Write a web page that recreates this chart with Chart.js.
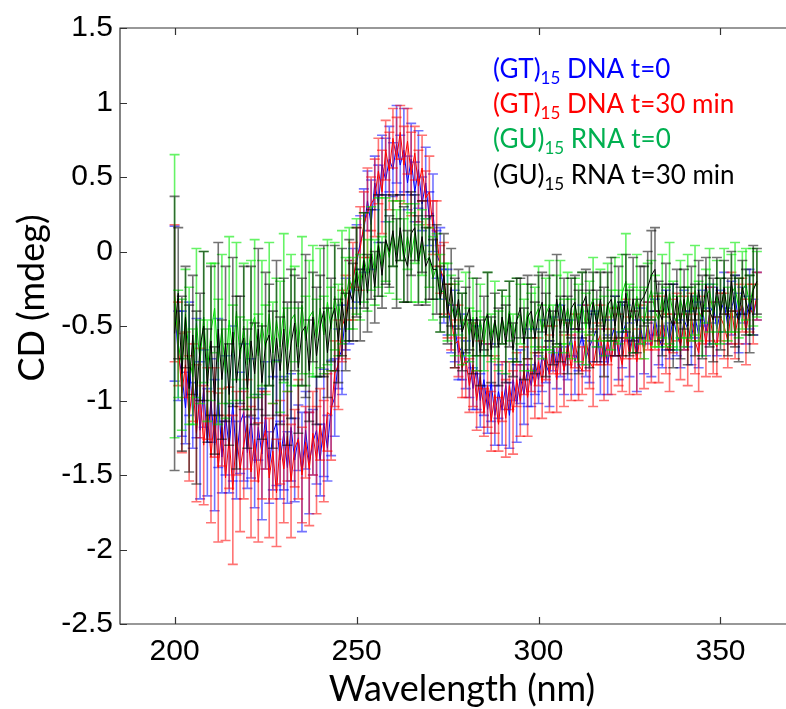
<!DOCTYPE html>
<html>
<head>
<meta charset="utf-8">
<script src="https://cdn.jsdelivr.net/npm/chart.js@4"></script>
<style>
  body { margin: 0; background: #fff; }
  #wrap { width: 786px; height: 709px; position: relative; }
</style>
</head>
<body>
<div id="wrap"><canvas id="cdChart"></canvas></div>
<script>
// Wavelength grid (nm), 1 nm steps
const wavelengths = [];
for (let w = 200; w <= 360; w++) wavelengths.push(w);

const xTicks = [200, 250, 300, 350];
const yTicks = [1.5, 1, 0.5, 0, -0.5, -1, -1.5, -2, -2.5];

// (GT)15 DNA t=0
const gtDna0 = [
  -0.35, -0.70, -0.82, -1.05, -0.72, -1.10, -0.85, -1.20, -0.92, -1.28,
  -1.00, -1.30, -0.95, -1.38, -1.10, -1.32, -1.02, -1.40, -1.15, -1.08,
  -1.35, -1.12, -1.42, -1.18, -1.36, -1.10, -1.45, -1.22, -1.15, -1.40,
  -1.22, -1.45, -1.18, -1.40, -1.25, -1.48, -1.20, -1.42, -1.28, -1.20,
  -1.40, -1.15, -1.32, -1.05, -0.98, -0.72, -0.66, -0.42, -0.34, -0.18,
  -0.08, 0.06, 0.14, 0.34, 0.18, 0.46, 0.32, 0.58, 0.48, 0.62,
  0.55, 0.72, 0.58, 0.68, 0.46, 0.62, 0.40, 0.55, 0.32, 0.46,
  0.22, 0.26, -0.02, -0.08, -0.30, -0.34, -0.52, -0.50, -0.68, -0.64,
  -0.76, -0.72, -0.92, -0.78, -1.00, -0.86, -1.06, -0.88, -1.10, -0.94,
  -1.06, -0.90, -1.10, -0.86, -1.02, -0.84, -0.96, -0.78, -0.90, -0.74,
  -0.86, -0.70, -0.76, -0.82, -0.62, -0.78, -0.60, -0.80, -0.66, -0.58,
  -0.74, -0.66, -0.56, -0.72, -0.64, -0.58, -0.52, -0.74, -0.60, -0.76,
  -0.58, -0.50, -0.70, -0.56, -0.48, -0.66, -0.54, -0.70, -0.50, -0.64,
  -0.48, -0.62, -0.44, -0.58, -0.64, -0.46, -0.60, -0.44, -0.56, -0.62,
  -0.46, -0.52, -0.58, -0.44, -0.56, -0.38, -0.54, -0.42, -0.36, -0.52,
  -0.40, -0.34, -0.50, -0.38, -0.30, -0.48, -0.36, -0.46, -0.32, -0.44, -0.30
];
const gtDna0Err = [
  0.52, 0.30, 0.42, 0.24, 0.38, 0.22, 0.40, 0.46, 0.26, 0.36,
  0.28, 0.44, 0.50, 0.24, 0.40, 0.30, 0.52, 0.26, 0.34, 0.46,
  0.24, 0.40, 0.30, 0.22, 0.44, 0.36, 0.24, 0.38, 0.42, 0.26,
  0.38, 0.24, 0.36, 0.28, 0.22, 0.40, 0.26, 0.34, 0.22, 0.36,
  0.24, 0.36, 0.22, 0.32, 0.26, 0.20, 0.30, 0.24, 0.28, 0.20,
  0.26, 0.18, 0.28, 0.20, 0.30, 0.18, 0.26, 0.20, 0.28, 0.22,
  0.18, 0.26, 0.20, 0.28, 0.18, 0.24, 0.20, 0.26, 0.18, 0.24,
  0.18, 0.26, 0.16, 0.24, 0.18, 0.22, 0.16, 0.24, 0.18, 0.22,
  0.16, 0.26, 0.14, 0.28, 0.18, 0.24, 0.16, 0.26, 0.20, 0.18,
  0.24, 0.16, 0.22, 0.14, 0.26, 0.18, 0.20, 0.26, 0.14, 0.22,
  0.16, 0.24, 0.12, 0.22, 0.18, 0.14, 0.24, 0.16, 0.20, 0.12,
  0.22, 0.14, 0.20, 0.12, 0.24, 0.16, 0.12, 0.22, 0.14, 0.20,
  0.12, 0.20, 0.16, 0.22, 0.12, 0.18, 0.14, 0.24, 0.12, 0.18,
  0.14, 0.22, 0.12, 0.18, 0.14, 0.20, 0.12, 0.22, 0.14, 0.16,
  0.20, 0.12, 0.18, 0.14, 0.22, 0.12, 0.16, 0.20, 0.12, 0.18,
  0.14, 0.20, 0.12, 0.18, 0.14, 0.20, 0.12, 0.16, 0.20, 0.12, 0.16
];

// (GT)15 DNA t=30 min
const gtDna30 = [
  -0.28, -0.62, -0.95, -0.76, -1.12, -0.88, -1.22, -0.95, -1.30, -1.02,
  -1.38, -1.08, -1.45, -1.18, -1.52, -1.25, -1.60, -1.22, -1.46, -1.30,
  -1.16, -1.48, -1.26, -1.55, -1.30, -1.20, -1.52, -1.34, -1.62, -1.28,
  -1.46, -1.24, -1.54, -1.32, -1.26, -1.50, -1.28, -1.46, -1.22, -1.40,
  -1.16, -1.34, -1.08, -1.10, -0.82, -0.76, -0.50, -0.44, -0.26, -0.20,
  -0.04, 0.02, 0.18, 0.26, 0.32, 0.36, 0.54, 0.40, 0.68, 0.54,
  0.76, 0.62, 0.80, 0.58, 0.74, 0.52, 0.66, 0.44, 0.56, 0.36,
  0.40, 0.16, 0.12, -0.12, -0.18, -0.40, -0.44, -0.62, -0.60, -0.78,
  -0.72, -0.90, -0.76, -1.00, -0.84, -1.08, -0.90, -1.14, -0.96, -1.16,
  -0.94, -1.12, -0.90, -1.08, -0.86, -1.00, -0.80, -0.98, -0.76, -0.90,
  -0.74, -0.88, -0.68, -0.82, -0.66, -0.86, -0.64, -0.80, -0.62, -0.78,
  -0.60, -0.76, -0.80, -0.58, -0.74, -0.78, -0.62, -0.56, -0.76, -0.60,
  -0.74, -0.54, -0.66, -0.76, -0.52, -0.70, -0.56, -0.74, -0.54, -0.68,
  -0.50, -0.66, -0.48, -0.64, -0.46, -0.62, -0.68, -0.50, -0.44, -0.64,
  -0.48, -0.66, -0.44, -0.60, -0.68, -0.46, -0.62, -0.42, -0.58, -0.64,
  -0.44, -0.50, -0.60, -0.38, -0.56, -0.42, -0.36, -0.54, -0.38, -0.42, -0.30
];
const gtDna30Err = [
  0.46, 0.28, 0.40, 0.22, 0.42, 0.26, 0.46, 0.30, 0.40, 0.24,
  0.44, 0.30, 0.50, 0.26, 0.42, 0.34, 0.50, 0.28, 0.42, 0.36,
  0.30, 0.44, 0.28, 0.40, 0.36, 0.26, 0.40, 0.32, 0.36, 0.28,
  0.36, 0.30, 0.38, 0.26, 0.40, 0.32, 0.24, 0.38, 0.28, 0.36,
  0.24, 0.34, 0.26, 0.30, 0.22, 0.30, 0.24, 0.28, 0.20, 0.26,
  0.20, 0.28, 0.22, 0.30, 0.18, 0.26, 0.22, 0.28, 0.20, 0.26,
  0.20, 0.28, 0.18, 0.26, 0.22, 0.28, 0.18, 0.24, 0.22, 0.18,
  0.24, 0.18, 0.22, 0.16, 0.24, 0.18, 0.22, 0.16, 0.24, 0.20,
  0.26, 0.18, 0.28, 0.20, 0.24, 0.16, 0.28, 0.20, 0.26, 0.18,
  0.20, 0.26, 0.16, 0.28, 0.18, 0.24, 0.16, 0.26, 0.18, 0.22,
  0.16, 0.24, 0.18, 0.26, 0.16, 0.22, 0.18, 0.24, 0.14, 0.22,
  0.18, 0.24, 0.16, 0.22, 0.18, 0.26, 0.14, 0.20, 0.24, 0.16,
  0.22, 0.16, 0.24, 0.18, 0.20, 0.26, 0.16, 0.22, 0.18, 0.24,
  0.16, 0.22, 0.18, 0.24, 0.16, 0.20, 0.26, 0.18, 0.16, 0.22,
  0.18, 0.24, 0.16, 0.22, 0.26, 0.16, 0.22, 0.18, 0.24, 0.20,
  0.16, 0.22, 0.18, 0.24, 0.16, 0.20, 0.18, 0.22, 0.16, 0.20, 0.16
];

// (GU)15 RNA t=0
const guRna0 = [
  -0.30, -0.62, -0.76, -0.42, -0.70, -0.84, -0.48, -0.74, -0.44, -0.80,
  -0.54, -0.38, -0.74, -0.52, -0.82, -0.46, -0.68, -0.40, -0.72, -0.50,
  -0.76, -0.52, -0.44, -0.70, -0.48, -0.66, -0.42, -0.68, -0.46, -0.64,
  -0.38, -0.66, -0.46, -0.42, -0.64, -0.36, -0.60, -0.44, -0.40, -0.58,
  -0.38, -0.56, -0.34, -0.52, -0.30, -0.46, -0.24, -0.32, -0.18, -0.28,
  -0.10, -0.24, -0.04, -0.16, 0.02, -0.14, 0.06, -0.10, 0.08, -0.04,
  0.12, -0.02, 0.14, -0.06, 0.10, -0.04, 0.12, -0.08, 0.06, -0.06,
  -0.04, -0.18, -0.10, -0.28, -0.26, -0.34, -0.36, -0.46, -0.38, -0.52,
  -0.42, -0.56, -0.44, -0.60, -0.46, -0.62, -0.42, -0.58, -0.46, -0.60,
  -0.44, -0.56, -0.40, -0.58, -0.46, -0.42, -0.56, -0.40, -0.54, -0.44,
  -0.38, -0.54, -0.42, -0.36, -0.52, -0.40, -0.34, -0.50, -0.38, -0.52,
  -0.36, -0.48, -0.34, -0.52, -0.38, -0.32, -0.48, -0.36, -0.50, -0.34,
  -0.46, -0.32, -0.44, -0.28, -0.20, -0.40, -0.46, -0.30, -0.44, -0.48,
  -0.34, -0.26, -0.40, -0.46, -0.30, -0.44, -0.28, -0.42, -0.48, -0.32,
  -0.44, -0.30, -0.42, -0.26, -0.40, -0.46, -0.30, -0.26, -0.42, -0.30,
  -0.40, -0.26, -0.42, -0.28, -0.24, -0.38, -0.26, -0.22, -0.36, -0.24, -0.22
];
const guRna0Err = [
  0.95, 0.36, 0.44, 0.30, 0.46, 0.32, 0.50, 0.28, 0.44, 0.34,
  0.46, 0.30, 0.42, 0.50, 0.30, 0.56, 0.32, 0.46, 0.28, 0.42,
  0.30, 0.46, 0.52, 0.28, 0.42, 0.30, 0.48, 0.34, 0.28, 0.44,
  0.50, 0.28, 0.44, 0.32, 0.26, 0.46, 0.30, 0.38, 0.44, 0.26,
  0.40, 0.26, 0.42, 0.28, 0.36, 0.24, 0.38, 0.28, 0.34, 0.24,
  0.32, 0.22, 0.30, 0.24, 0.28, 0.22, 0.30, 0.20, 0.28, 0.24,
  0.22, 0.30, 0.20, 0.28, 0.22, 0.30, 0.20, 0.26, 0.22, 0.28,
  0.20, 0.28, 0.22, 0.26, 0.18, 0.26, 0.20, 0.24, 0.18, 0.24,
  0.28, 0.18, 0.26, 0.20, 0.24, 0.18, 0.28, 0.16, 0.26, 0.20,
  0.18, 0.26, 0.20, 0.16, 0.28, 0.20, 0.24, 0.18, 0.26, 0.20,
  0.28, 0.18, 0.24, 0.30, 0.16, 0.24, 0.28, 0.18, 0.24, 0.20,
  0.18, 0.26, 0.20, 0.24, 0.18, 0.28, 0.16, 0.24, 0.20, 0.26,
  0.20, 0.28, 0.18, 0.26, 0.32, 0.18, 0.22, 0.28, 0.18, 0.24,
  0.26, 0.20, 0.24, 0.18, 0.28, 0.20, 0.34, 0.22, 0.18, 0.26,
  0.20, 0.28, 0.18, 0.30, 0.20, 0.24, 0.18, 0.28, 0.20, 0.24,
  0.22, 0.28, 0.18, 0.26, 0.30, 0.20, 0.26, 0.24, 0.20, 0.26, 0.22
];

// (GU)15 RNA t=30 min
const guRna30 = [
  -0.55, -0.28, -0.82, -0.44, -0.92, -0.56, -0.98, -0.64, -0.50, -0.90,
  -0.60, -1.00, -0.52, -0.86, -0.62, -0.96, -0.54, -0.88, -0.66, -0.58,
  -0.92, -0.60, -0.82, -0.52, -0.88, -0.62, -0.56, -0.86, -0.58, -0.80,
  -0.52, -0.82, -0.62, -0.48, -0.78, -0.54, -0.50, -0.80, -0.44, -0.70,
  -0.50, -0.40, -0.68, -0.46, -0.38, -0.60, -0.34, -0.54, -0.26, -0.34,
  -0.14, -0.36, -0.06, -0.28, -0.02, -0.24, 0.04, -0.16, 0.08, 0.00,
  0.14, -0.08, 0.16, -0.02, -0.10, 0.12, 0.16, -0.06, 0.10, -0.10,
  -0.04, -0.12, -0.12, -0.32, -0.16, -0.42, -0.24, -0.48, -0.32, -0.54,
  -0.46, -0.38, -0.64, -0.44, -0.68, -0.48, -0.42, -0.66, -0.46, -0.64,
  -0.44, -0.62, -0.42, -0.66, -0.46, -0.38, -0.62, -0.44, -0.40, -0.58,
  -0.42, -0.34, -0.56, -0.38, -0.58, -0.32, -0.52, -0.36, -0.56, -0.38,
  -0.34, -0.54, -0.36, -0.30, -0.52, -0.34, -0.50, -0.32, -0.54, -0.36,
  -0.32, -0.50, -0.34, -0.52, -0.28, -0.48, -0.32, -0.50, -0.34, -0.30,
  -0.24, -0.16, -0.12, -0.40, -0.46, -0.26, -0.44, -0.50, -0.30, -0.48,
  -0.32, -0.50, -0.28, -0.46, -0.26, -0.44, -0.22, -0.40, -0.46, -0.24,
  -0.42, -0.24, -0.44, -0.20, -0.40, -0.46, -0.24, -0.34, -0.42, -0.26, -0.20
];
const guRna30Err = [
  0.92, 0.44, 0.52, 0.34, 0.56, 0.40, 0.58, 0.36, 0.50, 0.38,
  0.50, 0.36, 0.58, 0.40, 0.52, 0.34, 0.50, 0.58, 0.36, 0.48,
  0.40, 0.50, 0.34, 0.54, 0.38, 0.48, 0.34, 0.46, 0.52, 0.36,
  0.34, 0.48, 0.50, 0.32, 0.44, 0.36, 0.48, 0.34, 0.30, 0.46,
  0.34, 0.44, 0.30, 0.28, 0.42, 0.28, 0.36, 0.26, 0.34, 0.26,
  0.30, 0.24, 0.32, 0.26, 0.30, 0.24, 0.34, 0.22, 0.30, 0.24,
  0.24, 0.30, 0.22, 0.32, 0.24, 0.28, 0.22, 0.30, 0.24, 0.26,
  0.28, 0.20, 0.30, 0.22, 0.28, 0.20, 0.26, 0.30, 0.20, 0.26,
  0.22, 0.28, 0.18, 0.26, 0.22, 0.18, 0.28, 0.22, 0.18, 0.26,
  0.18, 0.26, 0.22, 0.18, 0.28, 0.20, 0.24, 0.28, 0.18, 0.24,
  0.26, 0.20, 0.28, 0.22, 0.18, 0.30, 0.22, 0.18, 0.26, 0.20,
  0.18, 0.28, 0.22, 0.18, 0.26, 0.20, 0.24, 0.18, 0.30, 0.22,
  0.28, 0.20, 0.24, 0.18, 0.26, 0.22, 0.28, 0.18, 0.24, 0.20,
  0.24, 0.30, 0.28, 0.20, 0.24, 0.18, 0.22, 0.28, 0.18, 0.24,
  0.20, 0.26, 0.18, 0.24, 0.20, 0.28, 0.18, 0.24, 0.28, 0.20,
  0.24, 0.18, 0.26, 0.20, 0.24, 0.28, 0.18, 0.22, 0.26, 0.30, 0.22
];

const AXIS_FONT = '"Liberation Sans", Arial, sans-serif';
const TITLE_FONT = 'Lato, "Open Sans", sans-serif';

function toPoints(vals) {
  return wavelengths.map((w, i) => ({ x: w, y: vals[i] }));
}

// Error bars, drawn before each line so the line stays on top
const errorBarsPlugin = {
  id: 'errorBars',
  beforeDatasetDraw(chart, args) {
    const ds = chart.data.datasets[args.index];
    if (!ds.errors) return;
    const ctx = chart.ctx;
    const yScale = chart.scales.y;
    const area = chart.chartArea;
    ctx.save();
    ctx.beginPath();
    ctx.rect(area.left, area.top, area.right - area.left, area.bottom - area.top);
    ctx.clip();
    ctx.strokeStyle = ds.errorColor;
    ctx.lineWidth = 1.6;
    args.meta.data.forEach((pt, i) => {
      const v = ds.data[i].y;
      const e = ds.errors[i];
      const top = yScale.getPixelForValue(v + e);
      const bot = yScale.getPixelForValue(v - e);
      ctx.beginPath();
      ctx.moveTo(pt.x, top);
      ctx.lineTo(pt.x, bot);
      ctx.moveTo(pt.x - 5, top);
      ctx.lineTo(pt.x + 5, top);
      ctx.moveTo(pt.x - 5, bot);
      ctx.lineTo(pt.x + 5, bot);
      ctx.stroke();
    });
    ctx.restore();
  }
};

// Frame, inward ticks, axis titles and the text legend
const decorPlugin = {
  id: 'decor',
  afterDraw(chart) {
    const ctx = chart.ctx;
    const a = chart.chartArea;
    const xs = chart.scales.x;
    const ys = chart.scales.y;
    ctx.save();
    ctx.strokeStyle = '#333';
    ctx.lineWidth = 1.2;
    ctx.beginPath();
    ctx.moveTo(a.right + 2, a.top);
    ctx.lineTo(a.left, a.top);
    ctx.lineTo(a.left, a.bottom);
    ctx.lineTo(a.right + 2, a.bottom);
    xTicks.forEach(v => {
      const px = Math.round(xs.getPixelForValue(v)) + 0.5;
      ctx.moveTo(px, a.bottom);
      ctx.lineTo(px, a.bottom - 7);
      ctx.moveTo(px, a.top);
      ctx.lineTo(px, a.top + 7);
    });
    yTicks.forEach(v => {
      const py = Math.round(ys.getPixelForValue(v)) + 0.5;
      ctx.moveTo(a.left, py);
      ctx.lineTo(a.left + 7, py);
    });
    ctx.stroke();

    // axis titles
    ctx.fillStyle = '#000';
    ctx.font = '36px ' + TITLE_FONT;
    ctx.textAlign = 'center';
    ctx.textBaseline = 'alphabetic';
    ctx.fillText('Wavelength (nm)', 462, 701);
    ctx.save();
    ctx.translate(44, 298);
    ctx.rotate(-Math.PI / 2);
    ctx.fillText('CD (mdeg)', 0, 0);
    ctx.restore();

    // legend with subscripts
    ctx.textAlign = 'left';
    const legendRows = [
      { pre: '(GT)', post: ' DNA t=0', color: '#0000ff', y: 78 },
      { pre: '(GT)', post: ' DNA t=30 min', color: '#ff0000', y: 113 },
      { pre: '(GU)', post: ' RNA t=0', color: '#00b050', y: 148 },
      { pre: '(GU)', post: ' RNA t=30 min', color: '#000000', y: 184 }
    ];
    legendRows.forEach(r => {
      let x = 493;
      ctx.fillStyle = r.color;
      ctx.font = '26px ' + TITLE_FONT;
      ctx.fillText(r.pre, x, r.y);
      x += ctx.measureText(r.pre).width;
      ctx.font = '17px ' + TITLE_FONT;
      ctx.fillText('15', x, r.y + 6);
      x += ctx.measureText('15').width;
      ctx.font = '26px ' + TITLE_FONT;
      ctx.fillText(r.post, x, r.y);
    });
    ctx.restore();
  }
};

const datasets = [
  { label: '(GT)15 DNA t=0', data: toPoints(gtDna0), errors: gtDna0Err,
    borderColor: '#0000ff', errorColor: 'rgba(0,0,255,0.55)', order: 4 },
  { label: '(GT)15 DNA t=30 min', data: toPoints(gtDna30), errors: gtDna30Err,
    borderColor: '#ff0000', errorColor: 'rgba(255,0,0,0.55)', order: 3 },
  { label: '(GU)15 RNA t=0', data: toPoints(guRna0), errors: guRna0Err,
    borderColor: '#00dd00', errorColor: 'rgba(0,235,0,0.6)', order: 2 },
  { label: '(GU)15 RNA t=30 min', data: toPoints(guRna30), errors: guRna30Err,
    borderColor: '#000000', errorColor: 'rgba(0,0,0,0.55)', order: 1 }
];
datasets.forEach(d => {
  d.borderWidth = 1;
  d.pointRadius = 0;
  d.tension = 0;
  d.fill = false;
});

new Chart(document.getElementById('cdChart'), {
  type: 'line',
  data: { datasets: datasets },
  options: {
    responsive: true,
    maintainAspectRatio: false,
    animation: false,
    layout: { padding: { top: 28, right: 0, left: 0, bottom: 0 } },
    plugins: {
      legend: { display: false },
      tooltip: { enabled: false }
    },
    scales: {
      x: {
        type: 'linear',
        min: 185,
        max: 368,
        afterBuildTicks: s => { s.ticks = xTicks.map(v => ({ value: v })); },
        afterFit: s => { s.height = 85; },
        grid: { display: false, drawTicks: false },
        border: { display: false },
        ticks: {
          color: '#000',
          padding: 10,
          maxRotation: 0,
          font: { family: AXIS_FONT, size: 30 },
          callback: v => String(v)
        }
      },
      y: {
        min: -2.5,
        max: 1.5,
        afterBuildTicks: s => { s.ticks = yTicks.map(v => ({ value: v })); },
        afterFit: s => { s.width = 120; },
        grid: { display: false, drawTicks: false },
        border: { display: false },
        ticks: {
          color: '#000',
          padding: 7,
          font: { family: AXIS_FONT, size: 30 },
          callback: v => String(v)
        }
      }
    }
  },
  plugins: [errorBarsPlugin, decorPlugin]
});
</script>
</body>
</html>
